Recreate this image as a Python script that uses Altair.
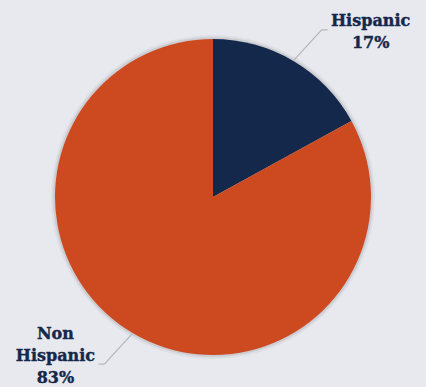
import altair as alt
import pandas as pd

categories = ["Hispanic", "Non Hispanic"]
shares = [17, 83]
labels = ["Hispanic\n17%", "Non\nHispanic\n83%"]
order = [0, 1]
colors = ["#13284b", "#cd4a21"]

df = pd.DataFrame({"category": categories, "share": shares, "label": labels, "order": order})

W, H = 426, 380
CX, CY = W / 2, H / 2
R = 158

base = alt.Chart(df)

theta = alt.Theta("share:Q", stack=True)
ordr = alt.Order("order:Q")

shadow2 = base.mark_arc(radius=R + 4, color="#000000", opacity=0.04).encode(theta=theta, order=ordr)
shadow1 = base.mark_arc(radius=R + 2, color="#000000", opacity=0.08).encode(theta=theta, order=ordr)

pie = base.mark_arc(radius=R).encode(
    theta=theta,
    color=alt.Color("category:N", scale=alt.Scale(domain=categories, range=colors), legend=None),
    order=ordr,
)

geo = base.transform_joinaggregate(total="sum(share)").transform_window(
    cum="sum(share)", sort=[alt.SortField("order")], frame=[None, 0]
).transform_calculate(
    mid="2*PI*(datum.cum - datum.share/2)/datum.total",
    sx=f"{CX} + {R + 1}*sin(datum.mid)",
    sy=f"{CY} - {R + 1}*cos(datum.mid)",
    ex=f"{CX} + 200*sin(datum.mid + 0.04)",
    ey=f"{CY} - 199*cos(datum.mid + 0.04)",
    side="sin(datum.mid) >= 0 ? 1 : -1",
    vside="cos(datum.mid) >= 0 ? 1 : -1",
    nlines="split(datum.label, '\\n').length",
    hx="datum.ex + 6*datum.side",
    tx="datum.hx + 43*datum.side",
    ty="datum.ey - (datum.nlines - 1)*11 + 5*datum.vside - 3",
)

lead1 = geo.mark_rule(color="#b4b4b8", strokeWidth=1.2).encode(
    x=alt.X("sx:Q", scale=None), y=alt.Y("sy:Q", scale=None),
    x2="ex:Q", y2="ey:Q",
)
lead2 = geo.mark_rule(color="#b4b4b8", strokeWidth=1.2).encode(
    x=alt.X("ex:Q", scale=None), y=alt.Y("ey:Q", scale=None),
    x2="hx:Q", y2="ey:Q",
)

text = geo.mark_text(
    font="DejaVu Serif", fontWeight="bold", fontSize=16, color="#13284b",
    stroke="#13284b", strokeWidth=0.4,
    lineBreak="\n", lineHeight=22, align="center", baseline="middle",
).encode(
    x=alt.X("tx:Q", scale=None), y=alt.Y("ty:Q", scale=None), text="label:N",
)

chart = alt.layer(shadow2, shadow1, pie, lead1, lead2, text).properties(
    width=W, height=H, autosize=alt.AutoSizeParams(type="none"),
    padding={"top": 7, "left": 0, "right": 0, "bottom": 0},
    background="#e8e9ee",
).configure_view(stroke=None)

chart.save("out.html", embed_options={"renderer": "svg", "actions": False})
